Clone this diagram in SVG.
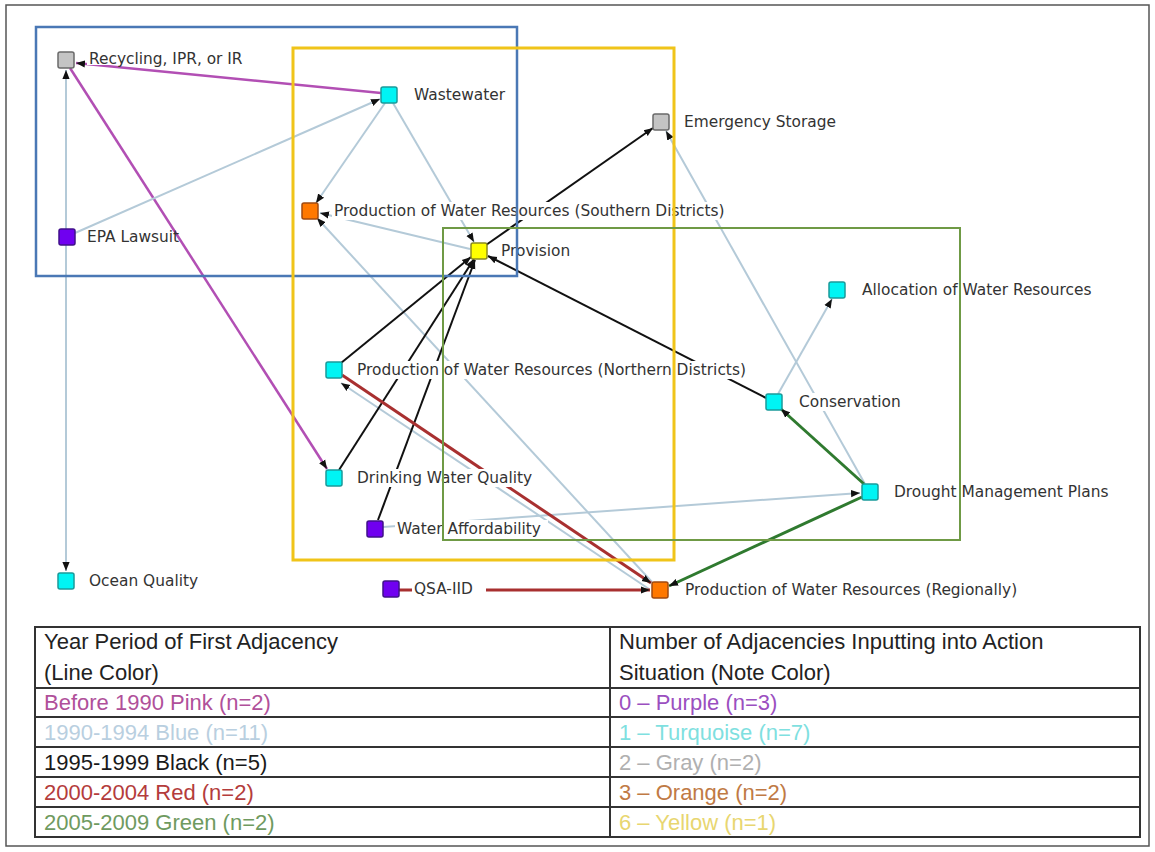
<svg xmlns="http://www.w3.org/2000/svg" width="1155" height="852" viewBox="0 0 1155 852">
<defs>
<marker id="ah" viewBox="0 0 10 10" refX="10" refY="5" markerWidth="9" markerHeight="9" markerUnits="userSpaceOnUse" orient="auto"><path d="M0,1 L10,5 L0,9 z" fill="#111"/></marker>
<style>
.e{fill:none;marker-end:url(#ah)}
.pink{stroke:#b24fb4;stroke-width:2.5}
.blue{stroke:#b4cad8;stroke-width:2}
.black{stroke:#111;stroke-width:2}
.red{stroke:#a83030;stroke-width:3}
.green{stroke:#2f7a2f;stroke-width:3}
.lbg{fill:#fff}
.lbl{font-family:"DejaVu Sans",sans-serif;font-size:15.4px;fill:#333}
.n rect.sq{stroke-width:1.5}
.gray{fill:#c4c4c4;stroke:#6a6a6a}
.cyan{fill:#00f4f4;stroke:#1a9a9a}
.purple{fill:#7000f0;stroke:#40108a}
.orange{fill:#ff7800;stroke:#a04a10}
.yellow{fill:#ffff00;stroke:#8a8a20}
.box{fill:none}
.tt{font-family:"Liberation Sans",Arial,sans-serif;font-size:22px}
.tl{stroke:#333;stroke-width:2;fill:none}
</style>
</defs>
<rect x="0" y="0" width="1155" height="852" fill="#fff"/>
<rect x="6" y="5" width="1143" height="841" fill="none" stroke="#555" stroke-width="1.5"/>

<g id="connectors">
<line class="e pink" x1="381" y1="93" x2="76" y2="63"/>
<line class="e pink" x1="70" y1="68" x2="327" y2="469"/>
<line class="e blue" x1="66" y1="229" x2="66" y2="70"/>
<line class="e blue" x1="66" y1="245" x2="66" y2="571"/>
<line class="e blue" x1="75" y1="233" x2="380" y2="99"/>
<line class="e blue" x1="385" y1="103" x2="316" y2="203"/>
<line class="e blue" x1="393" y1="103" x2="474" y2="242"/>
<line class="e blue" x1="470" y1="249" x2="320" y2="213"/>
<line class="e blue" x1="652" y1="582" x2="317" y2="218"/>
<line class="e blue" x1="865" y1="484" x2="666" y2="131"/>
<line class="e blue" x1="778" y1="394" x2="832" y2="299"/>
<line class="e blue" x1="383" y1="527" x2="860" y2="493"/>
<line class="e blue" x1="649" y1="589" x2="341" y2="383"/>
<line class="e black" x1="486" y1="245" x2="653" y2="128"/>
<line class="e black" x1="341" y1="363" x2="471" y2="257"/>
<line class="e black" x1="339" y1="470" x2="474" y2="259"/>
<line class="e black" x1="378" y1="520" x2="475" y2="260"/>
<line class="e black" x1="766" y1="398" x2="488" y2="256"/>
<line class="e red" x1="342" y1="375" x2="651" y2="583"/>
<line class="e red" x1="399" y1="590" x2="650" y2="590"/>
<line class="e green" x1="864" y1="484" x2="781" y2="409"/>
<line class="e green" x1="862" y1="497" x2="669" y2="586"/>
</g>

<g id="node-recycling" class="n"><rect class="lbg" x="87" y="50" width="174" height="15"/><rect class="sq gray" x="58" y="52" width="16" height="16" rx="2"/><text class="lbl" x="89" y="64">Recycling, IPR, or IR</text></g>
<g id="node-wastewater" class="n"><rect class="lbg" x="411" y="86" width="101" height="18"/><rect class="sq cyan" x="381" y="87" width="16" height="16" rx="2"/><text class="lbl" x="414" y="100">Wastewater</text></g>
<g id="node-emergency-storage" class="n"><rect class="lbg" x="682" y="113" width="167" height="18"/><rect class="sq gray" x="653" y="114" width="16" height="16" rx="2"/><text class="lbl" x="684" y="127">Emergency Storage</text></g>
<g id="node-production-southern" class="n"><rect class="lbg" x="332" y="202" width="424" height="18"/><rect class="sq orange" x="302" y="203" width="16" height="16" rx="2"/><text class="lbl" x="334" y="216">Production of Water Resources (Southern Districts)</text></g>
<g id="node-epa-lawsuit" class="n"><rect class="sq purple" x="59" y="229" width="16" height="16" rx="2"/><text class="lbl" x="87" y="242">EPA Lawsuit</text></g>
<g id="node-provision" class="n"><rect class="lbg" x="499" y="242" width="75" height="18"/><rect class="sq yellow" x="471" y="243" width="16" height="16" rx="2"/><text class="lbl" x="501" y="256">Provision</text></g>
<g id="node-allocation" class="n"><rect class="lbg" x="860" y="281" width="251" height="18"/><rect class="sq cyan" x="829" y="282" width="16" height="16" rx="2"/><text class="lbl" x="862" y="295">Allocation of Water Resources</text></g>
<g id="node-production-northern" class="n"><rect class="lbg" x="355" y="361" width="425" height="18"/><rect class="sq cyan" x="326" y="362" width="16" height="16" rx="2"/><text class="lbl" x="357" y="375">Production of Water Resources (Northern Districts)</text></g>
<g id="node-conservation" class="n"><rect class="lbg" x="797" y="393" width="110" height="18"/><rect class="sq cyan" x="766" y="394" width="16" height="16" rx="2"/><text class="lbl" x="799" y="407">Conservation</text></g>
<g id="node-drinking-water" class="n"><rect class="lbg" x="355" y="469" width="184" height="18"/><rect class="sq cyan" x="326" y="470" width="16" height="16" rx="2"/><text class="lbl" x="357" y="483">Drinking Water Quality</text></g>
<g id="node-drought" class="n"><rect class="lbg" x="892" y="483" width="234" height="18"/><rect class="sq cyan" x="862" y="484" width="16" height="16" rx="2"/><text class="lbl" x="894" y="497">Drought Management Plans</text></g>
<g id="node-water-affordability" class="n"><rect class="lbg" x="395" y="520" width="153" height="18"/><rect class="sq purple" x="367" y="521" width="16" height="16" rx="2"/><text class="lbl" x="397" y="534">Water Affordability</text></g>
<g id="node-ocean-quality" class="n"><rect class="lbg" x="87" y="572" width="119" height="18"/><rect class="sq cyan" x="58" y="573" width="16" height="16" rx="2"/><text class="lbl" x="89" y="586">Ocean Quality</text></g>
<g id="node-qsa-iid" class="n"><rect class="lbg" x="412" y="580" width="74" height="18"/><rect class="sq purple" x="383" y="581" width="16" height="16" rx="2"/><text class="lbl" x="414" y="594">QSA-IID</text></g>
<g id="node-production-regionally" class="n"><rect class="lbg" x="683" y="581" width="362" height="18"/><rect class="sq orange" x="652" y="582" width="16" height="16" rx="2"/><text class="lbl" x="685" y="595">Production of Water Resources (Regionally)</text></g>

<g id="groups">
<rect class="box" x="36" y="27" width="481" height="249" stroke="#4a78b5" stroke-width="2.5"/>
<rect class="box" x="293" y="48" width="381" height="512" stroke="#f0c419" stroke-width="3"/>
<rect class="box" x="443" y="228" width="517" height="312" stroke="#6f9a45" stroke-width="2"/>
</g>

<g id="legend">
<rect class="tl" x="35" y="627" width="1105" height="210"/>
<line class="tl" x1="610" y1="627" x2="610" y2="837"/>
<line class="tl" x1="35" y1="688" x2="1140" y2="688"/>
<line class="tl" x1="35" y1="717" x2="1140" y2="717"/>
<line class="tl" x1="35" y1="747" x2="1140" y2="747"/>
<line class="tl" x1="35" y1="777" x2="1140" y2="777"/>
<line class="tl" x1="35" y1="807" x2="1140" y2="807"/>
<text class="tt" x="44" y="649" fill="#222">Year Period of First Adjacency</text>
<text class="tt" x="44" y="680" fill="#222">(Line Color)</text>
<text class="tt" x="44" y="710" fill="#b0509a">Before 1990 Pink (n=2)</text>
<text class="tt" x="44" y="740" fill="#b9cfe0">1990-1994 Blue (n=11)</text>
<text class="tt" x="44" y="770" fill="#1a1a1a">1995-1999 Black (n=5)</text>
<text class="tt" x="44" y="800" fill="#b43c3c">2000-2004 Red (n=2)</text>
<text class="tt" x="44" y="830" fill="#6f9a60">2005-2009 Green (n=2)</text>
<text class="tt" x="619" y="649" fill="#222">Number of Adjacencies Inputting into Action</text>
<text class="tt" x="619" y="680" fill="#222">Situation (Note Color)</text>
<text class="tt" x="619" y="710" fill="#9b4fc0">0 – Purple (n=3)</text>
<text class="tt" x="619" y="740" fill="#7fe0e0">1 – Turquoise (n=7)</text>
<text class="tt" x="619" y="770" fill="#b0b0b0">2 – Gray (n=2)</text>
<text class="tt" x="619" y="800" fill="#c07a45">3 – Orange (n=2)</text>
<text class="tt" x="619" y="830" fill="#e8d670">6 – Yellow (n=1)</text>
</g>
</svg>
